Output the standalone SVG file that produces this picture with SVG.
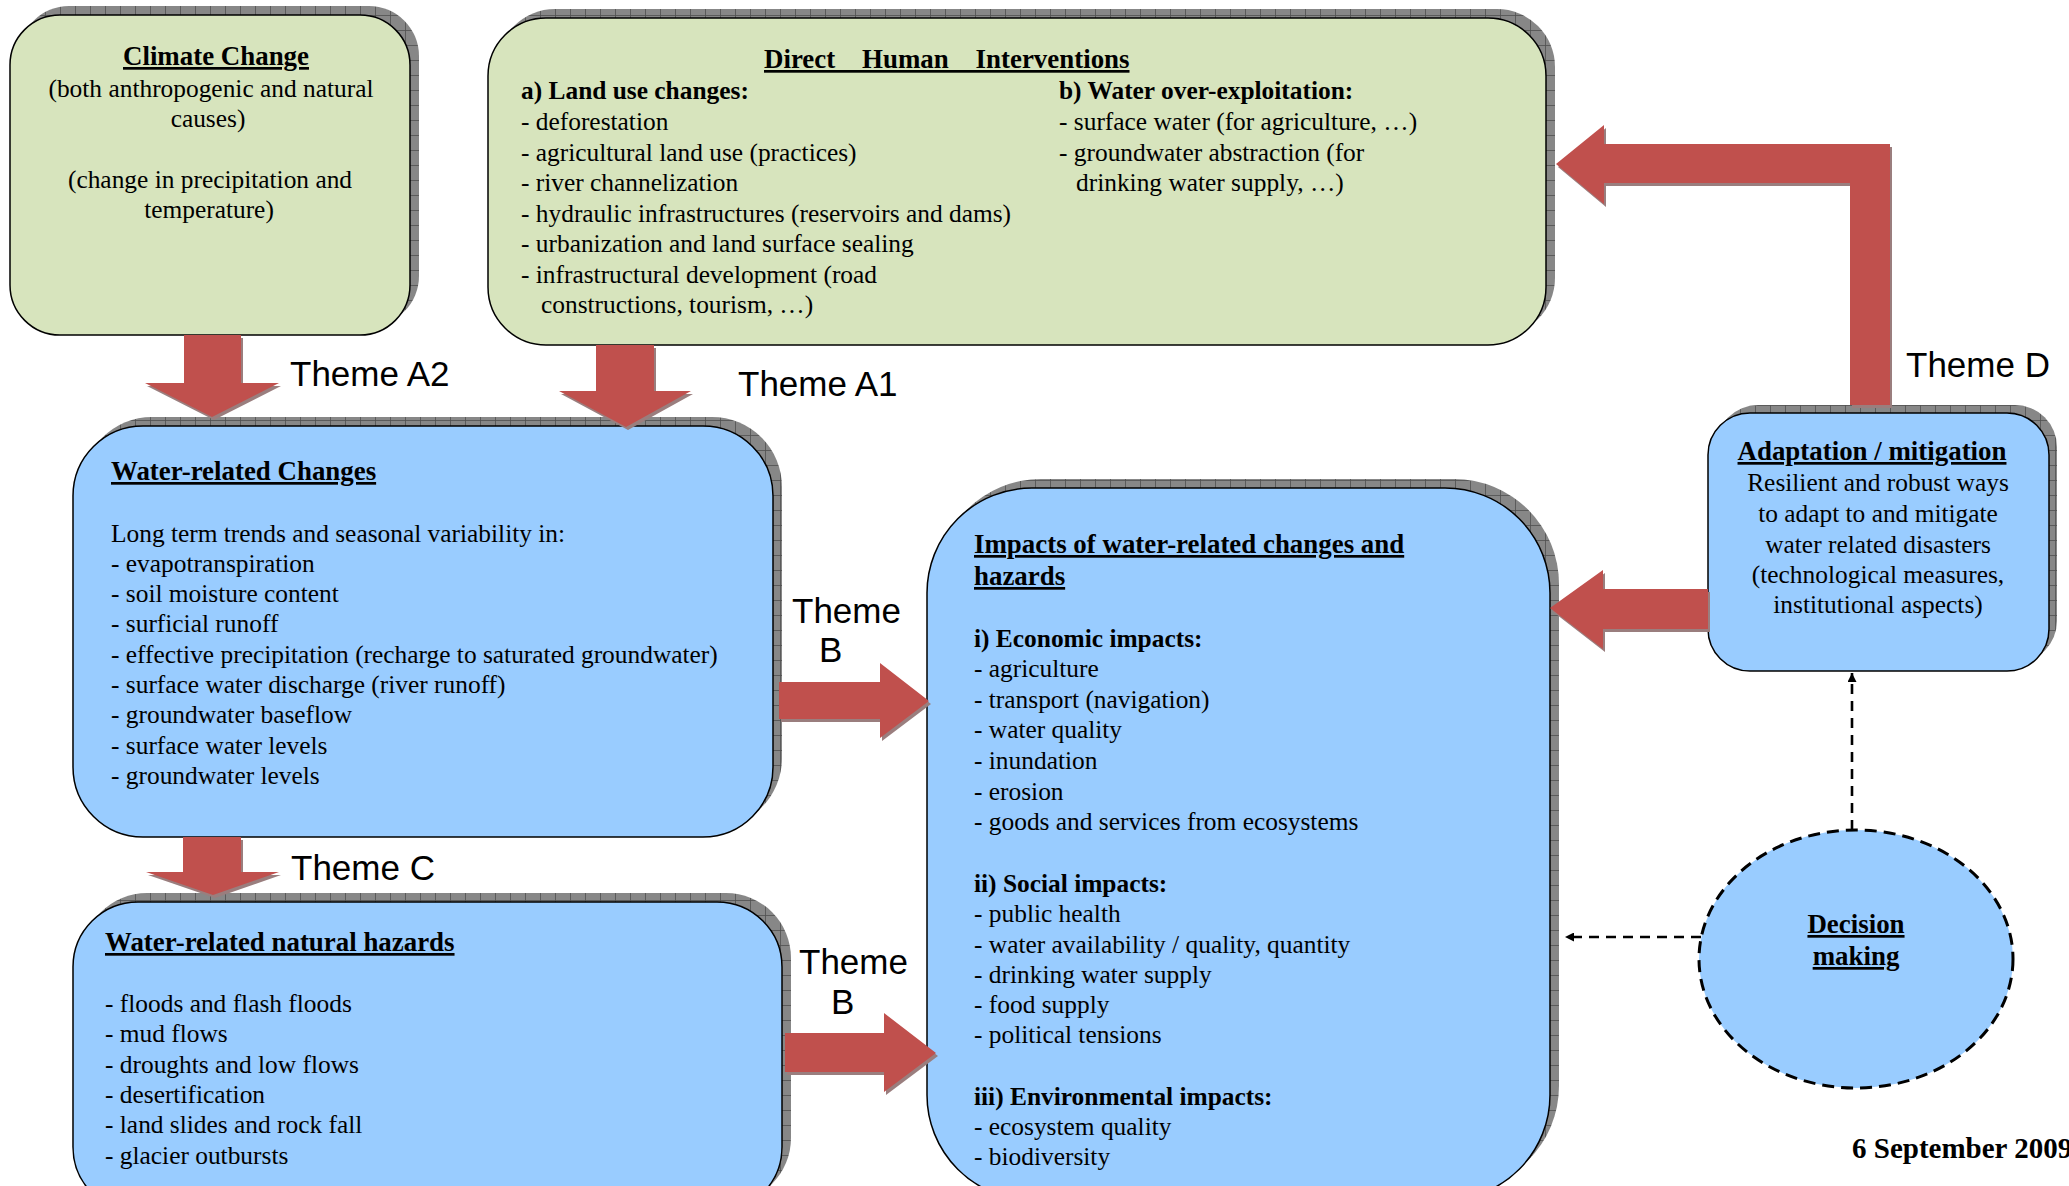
<svg xmlns="http://www.w3.org/2000/svg" xmlns:xlink="http://www.w3.org/1999/xlink" width="2069" height="1186" viewBox="0 0 2069 1186">
<style>
.sh{fill:url(#grid)}
.green{fill:#D7E4BD;stroke:#000;stroke-width:1.5}
.blue{fill:#99CCFF;stroke:#000;stroke-width:1.5}
.t{font-family:"Liberation Serif","Times New Roman",serif;font-size:25.4px;fill:#000}
.b{font-weight:bold}
.h{font-weight:bold;font-size:26.9px;text-decoration:underline}
.c{text-anchor:middle}
.theme{font-family:"Liberation Sans",Arial,sans-serif;font-size:35px;fill:#000}
.arr{fill:#C0504D}
.ash{fill:#9a7e7e}
.dash{stroke:#000;stroke-width:2.6;stroke-dasharray:10 7;fill:none}
</style>
<defs>
<pattern id="grid" patternUnits="userSpaceOnUse" width="15" height="15">
<rect width="15" height="15" fill="#878787"/>
<path d="M0,0.5 H15 M0.5,0 V15" stroke="#4f4f4f" stroke-width="0.8"/>
</pattern>
<marker id="tri" viewBox="0 0 10 10" refX="10" refY="5" markerUnits="userSpaceOnUse" markerWidth="9" markerHeight="9" orient="auto">
<path d="M0,0 L10,5 L0,10 z" fill="#000"/>
</marker>
<polygon id="pA2" points="184,335 241,335 241,383 279,383 212,417 145,383 184,383"/>
<polygon id="pA1" points="596,345 654,345 654,391 691,391 626,427 559,391 596,391"/>
<polygon id="pC" points="183,837 241,837 241,872 279,872 213,895 146,872 183,872"/>
<polygon id="pB1" points="779,682 880,682 880,663 929,701 880,738 880,719 779,719"/>
<polygon id="pB2" points="785,1033 884,1033 884,1013 936,1053 884,1092 884,1072 785,1072"/>
<polygon id="pD" points="1890,405 1890,144 1604,144 1604,125 1556,164 1604,204 1604,183 1850,183 1850,405"/>
<polygon id="pAd" points="1708,589 1603,589 1603,570 1550,608 1603,649 1603,629 1708,629"/>
</defs>
<rect width="2069" height="1186" fill="#fff"/>

<g id="climate-change">
<rect class="sh" x="19" y="6" width="400" height="320" rx="50"/>
<rect class="green" x="10" y="15" width="400" height="320" rx="50"/>
<text class="t c h" x="216" y="65">Climate Change</text>
<text class="t c" x="211" y="97">(both anthropogenic and natural</text>
<text class="t c" x="208" y="127">causes)</text>
<text class="t c" x="210" y="188">(change in precipitation and</text>
<text class="t c" x="209" y="218">temperature)</text>
</g>

<g id="direct-human-interventions">
<rect class="sh" x="497" y="9" width="1058" height="327" rx="58"/>
<rect class="green" x="488" y="18" width="1058" height="327" rx="58"/>
<text class="t h" x="764" y="68" style="white-space:pre" xml:space="preserve">Direct    Human    Interventions</text>
<text class="t b" x="521" y="99">a) Land use changes:</text>
<text class="t" x="521" y="130">- deforestation</text>
<text class="t" x="521" y="161">- agricultural land use (practices)</text>
<text class="t" x="521" y="191">- river channelization</text>
<text class="t" x="521" y="222">- hydraulic infrastructures (reservoirs and dams)</text>
<text class="t" x="521" y="252">- urbanization and land surface sealing</text>
<text class="t" x="521" y="283">- infrastructural development (road</text>
<text class="t" x="541" y="313">constructions, tourism, …)</text>
<text class="t b" x="1059" y="99">b) Water over-exploitation:</text>
<text class="t" x="1059" y="130">- surface water (for agriculture, …)</text>
<text class="t" x="1059" y="161">- groundwater abstraction (for</text>
<text class="t" x="1076" y="191">drinking water supply, …)</text>
</g>

<g id="water-related-changes">
<rect class="sh" x="82" y="417" width="700" height="411" rx="70"/>
<rect class="blue" x="73" y="426" width="700" height="411" rx="70"/>
<text class="t h" x="111" y="480">Water-related Changes</text>
<text class="t" x="111" y="542">Long term trends and seasonal variability in:</text>
<text class="t" x="111" y="572">- evapotranspiration</text>
<text class="t" x="111" y="602">- soil moisture content</text>
<text class="t" x="111" y="632">- surficial runoff</text>
<text class="t" x="111" y="663">- effective precipitation (recharge to saturated groundwater)</text>
<text class="t" x="111" y="693">- surface water discharge (river runoff)</text>
<text class="t" x="111" y="723">- groundwater baseflow</text>
<text class="t" x="111" y="754">- surface water levels</text>
<text class="t" x="111" y="784">- groundwater levels</text>
</g>

<g id="water-related-natural-hazards">
<rect class="sh" x="82" y="893" width="709" height="310" rx="65"/>
<rect class="blue" x="73" y="902" width="709" height="310" rx="65"/>
<text class="t h" x="105" y="951">Water-related natural hazards</text>
<text class="t" x="105" y="1012">- floods and flash floods</text>
<text class="t" x="105" y="1042">- mud flows</text>
<text class="t" x="105" y="1073">- droughts and low flows</text>
<text class="t" x="105" y="1103">- desertification</text>
<text class="t" x="105" y="1133">- land slides and rock fall</text>
<text class="t" x="105" y="1164">- glacier outbursts</text>
</g>

<g id="impacts">
<rect class="sh" x="936" y="479" width="623" height="712" rx="105"/>
<rect class="blue" x="927" y="488" width="623" height="712" rx="105"/>
<text class="t h" x="974" y="553">Impacts of water-related changes and</text>
<text class="t h" x="974" y="585">hazards</text>
<text class="t b" x="974" y="647">i) Economic impacts:</text>
<text class="t" x="974" y="677">- agriculture</text>
<text class="t" x="974" y="708">- transport (navigation)</text>
<text class="t" x="974" y="738">- water quality</text>
<text class="t" x="974" y="769">- inundation</text>
<text class="t" x="974" y="800">- erosion</text>
<text class="t" x="974" y="830">- goods and services from ecosystems</text>
<text class="t b" x="974" y="892">ii) Social impacts:</text>
<text class="t" x="974" y="922">- public health</text>
<text class="t" x="974" y="953">- water availability / quality, quantity</text>
<text class="t" x="974" y="983">- drinking water supply</text>
<text class="t" x="974" y="1013">- food supply</text>
<text class="t" x="974" y="1043">- political tensions</text>
<text class="t b" x="974" y="1105">iii) Environmental impacts:</text>
<text class="t" x="974" y="1135">- ecosystem quality</text>
<text class="t" x="974" y="1165">- biodiversity</text>
</g>

<g id="adaptation-mitigation">
<rect class="sh" x="1716" y="405" width="341" height="258" rx="42"/>
<rect class="blue" x="1708" y="413" width="341" height="258" rx="42"/>
<text class="t c h" x="1872" y="460">Adaptation / mitigation</text>
<text class="t c" x="1878" y="491">Resilient and robust ways</text>
<text class="t c" x="1878" y="522">to adapt to and mitigate</text>
<text class="t c" x="1878" y="553">water related disasters</text>
<text class="t c" x="1878" y="583">(technological measures,</text>
<text class="t c" x="1878" y="613">institutional aspects)</text>
</g>

<g id="decision-making">
<ellipse cx="1856" cy="959" rx="157" ry="129" fill="#99CCFF" stroke="#000" stroke-width="3" stroke-dasharray="12 7"/>
<text class="t c h" x="1856" y="933">Decision</text>
<text class="t c h" x="1856" y="965">making</text>
</g>

<g id="connectors">
<use href="#pA2" class="ash" transform="translate(2,3)"/>
<use href="#pA2" class="arr"/>
<use href="#pA1" class="ash" transform="translate(2,3)"/>
<use href="#pA1" class="arr"/>
<use href="#pC" class="ash" transform="translate(2,3)"/>
<use href="#pC" class="arr"/>
<use href="#pB1" class="ash" transform="translate(2,3)"/>
<use href="#pB1" class="arr"/>
<use href="#pB2" class="ash" transform="translate(2,3)"/>
<use href="#pB2" class="arr"/>
<use href="#pD" class="ash" transform="translate(2,3)"/>
<use href="#pD" class="arr"/>
<use href="#pAd" class="ash" transform="translate(2,3)"/>
<use href="#pAd" class="arr"/>
<line class="dash" x1="1701" y1="937" x2="1565" y2="937" marker-end="url(#tri)"/>
<line class="dash" x1="1852" y1="830" x2="1852" y2="673" marker-end="url(#tri)"/>
</g>

<g id="labels">
<text class="theme" x="290" y="386">Theme A2</text>
<text class="theme" x="738" y="396">Theme A1</text>
<text class="theme" x="1906" y="377">Theme D</text>
<text class="theme" x="291" y="880">Theme C</text>
<text class="theme" x="792" y="623">Theme</text>
<text class="theme" x="819" y="662">B</text>
<text class="theme" x="799" y="974">Theme</text>
<text class="theme" x="831" y="1014">B</text>
<text class="t b" x="1852" y="1158" style="font-size:29px">6 September 2009</text>
</g>
</svg>
